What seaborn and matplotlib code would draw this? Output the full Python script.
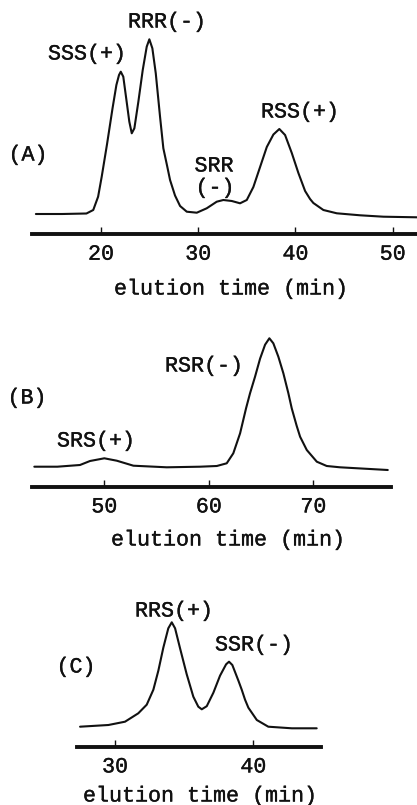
import matplotlib
matplotlib.use("Agg")
import matplotlib.pyplot as plt
import matplotlib.patheffects as pe
import seaborn as sns
import pandas as pd

time_a = [13.3, 16.0, 18.5, 19.2, 19.7, 20.07, 20.62, 21.18, 21.58, 21.85, 22.03, 22.29,
          22.64, 22.91, 23.16, 23.43, 23.84, 24.29, 24.7, 24.97, 25.28, 25.63, 26.07,
          26.41, 26.8, 27.1, 27.61, 28.13, 28.82, 29.85, 30.87, 31.9, 32.58, 33.45,
          34.3, 34.99, 35.67, 36.36, 37.05, 37.73, 38.34, 38.93, 39.62, 40.3, 40.99,
          41.5, 41.84, 42.87, 44.25, 46.65, 49.04, 52.48]
signal_a = [20, 20, 20.5, 24, 37.3, 57.3, 90, 125.5, 149, 159, 162.3, 157.3,
            132, 112.3, 100.7, 105.7, 132.3, 164, 187.3, 194.7, 185.7, 160.7, 117.3,
            85.7, 68, 54, 38.5, 28, 22.3, 21.3, 25.7, 32.3, 34, 33,
            30.7, 34, 47, 67, 87, 99.5, 105, 99, 81, 61, 43,
            35, 31, 24, 20.7, 18.7, 17.3, 16.7]

time_b = [43.3, 45.5, 47.67, 48.63, 50.0, 51.19, 52.78, 55.97, 59.16, 60.76, 61.71,
          62.34, 62.99, 63.56, 63.94, 64.42, 64.9, 65.38, 65.79, 66.17, 66.65, 67.13,
          67.61, 67.93, 68.4, 68.73, 69.37, 70.33, 71.28, 72.55, 77.12]
signal_b = [20, 20, 21.7, 25.7, 28.4, 26, 21, 19.4, 20, 20.7, 23.4,
            33.4, 53.4, 78.4, 93.4, 110, 128, 142, 148.4, 143.4, 130, 113.4,
            93.4, 78.4, 61, 50, 36.7, 25, 20.7, 19.4, 16.7]

time_c = [27.47, 29.52, 30.72, 31.68, 32.29, 32.77, 33.13, 33.49, 33.85, 34.1, 34.34,
          34.7, 35.18, 35.66, 36.02, 36.27, 36.63, 37.11, 37.59, 38.03, 38.24, 38.48,
          38.92, 39.16, 39.4, 39.64, 40.25, 41.08, 42.78, 44.58]
signal_c = [20, 21.7, 25, 33.4, 42, 57, 76, 99, 118.4, 124.4, 118.4,
            98.4, 72.5, 50, 40, 37.4, 40.5, 54, 71, 82.4, 85, 81.7,
            66, 57, 47, 39, 26.7, 20, 18.4, 18.4]

ticks_a = [20, 30, 40, 50]
ticks_b = [50, 60, 70]
ticks_c = [30, 40]
tick_labels_a = ["20", "30", "40", "50"]
tick_labels_b = ["50", "60", "70"]
tick_labels_c = ["30", "40"]

panel_labels = ["(A)", "(B)", "(C)"]
peak_labels_a = ["SSS(+)", "RRR(-)", "SRR", "(-)", "RSS(+)"]
peak_labels_b = ["SRS(+)", "RSR(-)"]
peak_labels_c = ["RRS(+)", "SSR(-)"]
xlabel = "elution time (min)"

# ---------------- style ----------------
sns.set_theme(style="white")
plt.rcParams["font.family"] = ["Liberation Mono", "DejaVu Sans Mono"]

W, H = 417, 805
fig = plt.figure(figsize=(W / 100, H / 100), dpi=100)
fig.patch.set_facecolor("white")

FS = 15.6
INK = "#111111"
STROKE = [pe.withStroke(linewidth=0.25, foreground=INK)]


def add_panel(left, right, bottom, top, xlim, ylim_top, t, s, ticks, tlabels):
    ax = fig.add_axes([left / W, 1 - bottom / H, (right - left) / W, (bottom - top) / H])
    ax.set_facecolor("none")
    df = pd.DataFrame({"t": t, "s": s})
    sns.lineplot(data=df, x="t", y="s", ax=ax, color=INK, lw=1.5, estimator=None,
                 sort=False, solid_joinstyle="round", solid_capstyle="round")
    ax.set_xlim(*xlim)
    ax.set_ylim(0, ylim_top)
    for sp in ["left", "top", "right"]:
        ax.spines[sp].set_visible(False)
    ax.spines["bottom"].set_linewidth(2.8)
    ax.spines["bottom"].set_color(INK)
    ax.set_yticks([])
    ax.set_xticks(ticks, tlabels)
    ax.tick_params(axis="x", direction="in", length=5, width=1.0, color=INK,
                   labelsize=FS, labelcolor=INK, pad=7, bottom=True)
    for lab in ax.get_xticklabels():
        lab.set_path_effects(STROKE)
    ax.set_xlabel("")
    ax.set_ylabel("")
    return ax


add_panel(32, 417, 234, 20, (12.9, 52.5), 214, time_a, signal_a, ticks_a, tick_labels_a)
add_panel(31.7, 390.7, 486.7, 320, (43.05, 77.4), 166.7, time_b, signal_b, ticks_b, tick_labels_b)
add_panel(77.3, 320.7, 746.7, 600, (27.27, 44.87), 146.7, time_c, signal_c, ticks_c, tick_labels_c)


def ftext(x, y, s):
    fig.text(x / W, 1 - y / H, s, ha="center", va="center", fontsize=FS, color=INK,
             path_effects=STROKE)


# panel A
ftext(28, 155, panel_labels[0])
ftext(87, 54, peak_labels_a[0])
ftext(167, 22, peak_labels_a[1])
ftext(214, 166, peak_labels_a[2])
ftext(215, 188, peak_labels_a[3])
ftext(300, 112, peak_labels_a[4])
ftext(231, 289, xlabel)

# panel B
ftext(27, 398, panel_labels[1])
ftext(96, 441, peak_labels_b[0])
ftext(204, 366, peak_labels_b[1])
ftext(228, 540, xlabel)

# panel C
ftext(76, 667, panel_labels[2])
ftext(174, 611, peak_labels_c[0])
ftext(254, 645, peak_labels_c[1])
ftext(200, 796, xlabel)

fig.savefig("out.png", dpi=100, facecolor="white")
